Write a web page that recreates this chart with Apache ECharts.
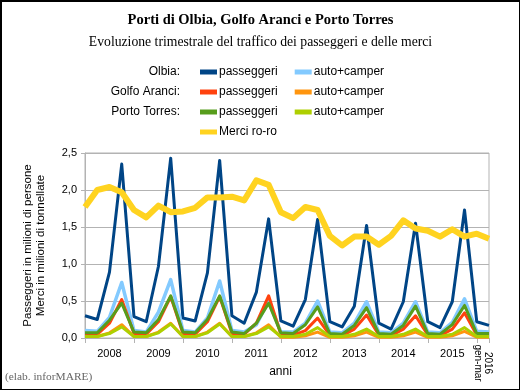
<!DOCTYPE html>
<html>
<head>
<meta charset="utf-8">
<script src="https://cdn.jsdelivr.net/npm/echarts@6/dist/echarts.min.js"></script>
<style>
html,body{margin:0;padding:0;background:#fff;}
#wrap{position:relative;width:521px;height:391px;}
#chart{width:521px;height:391px;}
#frame{position:absolute;left:0;top:0;width:517px;height:387px;border-top:2px solid #000;border-left:2px solid #000;border-right:1px solid #000;border-bottom:1px solid #000;pointer-events:none;}
</style>
</head>
<body>
<div id="wrap"><div id="chart"></div><div id="frame"></div></div>
<script>
// Quarters (first point: IV trimestre 2007, last: I trimestre 2016)
const quarters = ['2007 T4',
  '2008 T1','2008 T2','2008 T3','2008 T4',
  '2009 T1','2009 T2','2009 T3','2009 T4',
  '2010 T1','2010 T2','2010 T3','2010 T4',
  '2011 T1','2011 T2','2011 T3','2011 T4',
  '2012 T1','2012 T2','2012 T3','2012 T4',
  '2013 T1','2013 T2','2013 T3','2013 T4',
  '2014 T1','2014 T2','2014 T3','2014 T4',
  '2015 T1','2015 T2','2015 T3','2015 T4',
  '2016 T1'];
const yearLabels = ['2008','2009','2010','2011','2012','2013','2014','2015'];
const lastLabel = '2016\ngen-mar';
const yTicks = [0, 0.5, 1, 1.5, 2, 2.5];

const olbiaPass = [0.30,0.25,0.89,2.35,0.29,0.22,0.97,2.43,0.27,0.23,0.88,2.40,0.30,0.20,0.62,1.61,0.23,0.16,0.52,1.60,0.22,0.15,0.43,1.52,0.20,0.12,0.49,1.55,0.22,0.14,0.49,1.73,0.22,0.17];
const olbiaAuto = [0.10,0.09,0.28,0.75,0.10,0.08,0.35,0.79,0.10,0.08,0.27,0.77,0.10,0.08,0.18,0.50,0.08,0.08,0.20,0.50,0.08,0.07,0.20,0.49,0.08,0.07,0.20,0.49,0.08,0.07,0.21,0.53,0.09,0.08];
const golfoPass = [0.05,0.05,0.20,0.52,0.06,0.05,0.22,0.56,0.06,0.05,0.22,0.56,0.06,0.05,0.20,0.57,0.05,0.04,0.10,0.27,0.04,0.03,0.12,0.31,0.04,0.03,0.12,0.30,0.04,0.03,0.12,0.34,0.04,0.04];
const golfoAuto = [0.02,0.02,0.07,0.18,0.02,0.02,0.08,0.20,0.02,0.02,0.08,0.20,0.02,0.02,0.07,0.18,0.01,0.01,0.03,0.08,0.01,0.01,0.03,0.08,0.01,0.01,0.03,0.08,0.01,0.01,0.03,0.09,0.01,0.01];
const torresPass = [0.07,0.07,0.24,0.47,0.08,0.07,0.25,0.57,0.08,0.07,0.25,0.57,0.08,0.06,0.20,0.47,0.07,0.06,0.18,0.42,0.06,0.05,0.17,0.41,0.06,0.05,0.17,0.43,0.06,0.05,0.18,0.44,0.06,0.06];
const torresAuto = [0.02,0.02,0.06,0.15,0.02,0.02,0.07,0.19,0.02,0.02,0.07,0.19,0.02,0.02,0.06,0.15,0.02,0.02,0.05,0.14,0.02,0.02,0.05,0.12,0.02,0.02,0.05,0.12,0.02,0.02,0.05,0.14,0.02,0.02];
const merciRoro = [1.77,2.00,2.04,1.97,1.73,1.63,1.79,1.70,1.71,1.76,1.90,1.90,1.91,1.86,2.13,2.07,1.70,1.62,1.77,1.73,1.38,1.25,1.37,1.37,1.26,1.38,1.59,1.48,1.45,1.37,1.47,1.37,1.41,1.34];

const SANS = 'Liberation Sans, Arial, sans-serif';
const SERIF = 'Liberation Serif, Times New Roman, serif';
const GRID = '#b3b3b3';

function mkSeries(name, data, color, width) {
  return { name, type:'line', data, symbol:'none', color,
    lineStyle:{ color, width, join:'round' }, itemStyle:{ color }, animation:false };
}
const legendBase = { orient:'horizontal', left:200, icon:'rect', itemWidth:17, itemHeight:5, itemGap:17,
  padding:0, selectedMode:false, textStyle:{ fontFamily:SANS, fontSize:12, color:'#000', padding:[0,0,0,-3] },
  formatter: n => n.replace(/^(Olbia|Golfo Aranci|Porto Torres) /,'') };
const rowLabel = (text, top) => ({ text, right:341, top, padding:0,
  textStyle:{ fontFamily:SANS, fontSize:12, fontWeight:'normal', color:'#000' } });

const chart = echarts.init(document.getElementById('chart'), null, { renderer:'canvas' });
chart.setOption({
  backgroundColor:'#fff',
  animation:false,
  title:[
    { text:'Porti di Olbia, Golfo Aranci e Porto Torres', left:'center', top:13, padding:0,
      textStyle:{ fontFamily:SERIF, fontSize:14.5, fontWeight:'bold', color:'#000' } },
    { text:'Evoluzione trimestrale del traffico dei passeggeri e delle merci', left:'center', top:35, padding:0,
      textStyle:{ fontFamily:SERIF, fontSize:13.7, fontWeight:'normal', color:'#000' } },
    rowLabel('Olbia:', 66), rowLabel('Golfo Aranci:', 86), rowLabel('Porto Torres:', 106),
    { text:'(elab. inforMARE)', left:5, top:372, padding:0,
      textStyle:{ fontFamily:SERIF, fontSize:11.4, fontWeight:'normal', color:'#666' } }
  ],
  legend:[
    Object.assign({}, legendBase, { top:66, data:['Olbia passeggeri','Olbia auto+camper'] }),
    Object.assign({}, legendBase, { top:86, data:['Golfo Aranci passeggeri','Golfo Aranci auto+camper'] }),
    Object.assign({}, legendBase, { top:106, data:['Porto Torres passeggeri','Porto Torres auto+camper'] }),
    Object.assign({}, legendBase, { top:126, data:['Merci ro-ro'] })
  ],
  grid:{ left:85, right:32, top:153, bottom:53, show:true, borderColor:GRID, borderWidth:1, backgroundColor:'transparent' },
  xAxis:[
    { type:'category', data:quarters, boundaryGap:false,
      axisLine:{ lineStyle:{ color:GRID } },
      axisTick:{ interval:(i)=> i%4===0 || i===quarters.length-1, length:5, lineStyle:{ color:GRID } },
      axisLabel:{ interval:(i)=> i%4===2 && i<32, formatter:(v,i)=> yearLabels[(i-2)/4],
        color:'#000', fontFamily:SANS, fontSize:11, margin:10 },
      splitLine:{ show:false },
      name:'anni', nameLocation:'middle', nameGap:28,
      nameTextStyle:{ fontFamily:SANS, fontSize:12, color:'#000', padding:[0,13,0,0] } },
    { type:'category', data:quarters.slice(1), boundaryGap:true, position:'bottom',
      axisLine:{ show:false }, axisTick:{ show:false }, splitLine:{ show:false },
      axisLabel:{ interval:(i)=> i===quarters.length-2, formatter:()=> lastLabel, rotate:-90,
        align:'center', verticalAlign:'middle', margin:25, lineHeight:10,
        color:'#000', fontFamily:SANS, fontSize:10 } }
  ],
  yAxis:{ type:'value', min:yTicks[0], max:yTicks[yTicks.length-1], interval:0.5,
    axisLine:{ show:true, lineStyle:{ color:GRID } },
    axisTick:{ show:true, length:4, lineStyle:{ color:GRID } },
    axisLabel:{ formatter:v=> v.toFixed(1).replace('.', ','), color:'#000', fontFamily:SANS, fontSize:11, margin:8 },
    splitLine:{ lineStyle:{ color:GRID } },
    name:'Passeggeri in milioni di persone\nMerci in milioni di tonnellate',
    nameLocation:'middle', nameGap:38,
    nameTextStyle:{ fontFamily:SANS, fontSize:11.5, color:'#000', lineHeight:13 } },
  series:[
    mkSeries('Olbia passeggeri', olbiaPass, '#004586', 3),
    mkSeries('Olbia auto+camper', olbiaAuto, '#83CAFF', 3.5),
    mkSeries('Golfo Aranci passeggeri', golfoPass, '#FF420E', 3),
    mkSeries('Golfo Aranci auto+camper', golfoAuto, '#FF950E', 3),
    mkSeries('Porto Torres passeggeri', torresPass, '#579D1C', 3),
    mkSeries('Porto Torres auto+camper', torresAuto, '#AECF00', 3),
    mkSeries('Merci ro-ro', merciRoro, '#FFD320', 6)
  ]
});
</script>
</body>
</html>
